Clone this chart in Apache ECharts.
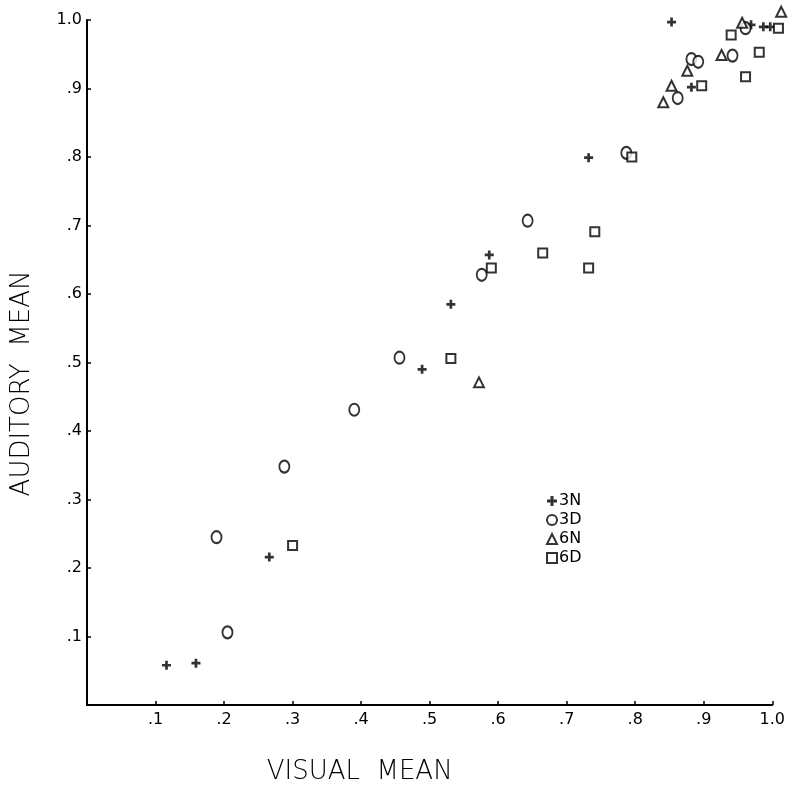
<!DOCTYPE html>
<html>
<head>
<meta charset="utf-8">
<script src="https://cdn.jsdelivr.net/npm/echarts@6/dist/echarts.min.js"></script>
<style>
    html, body { margin: 0; padding: 0; background: #fff; }
    #scatterChart { width: 788px; height: 790px; }
</style>
</head>
<body>
<div id="scatterChart"></div>
<script>
// axis ticks
const tickValues = [0.1, 0.2, 0.3, 0.4, 0.5, 0.6, 0.7, 0.8, 0.9, 1.0];

// [visual mean, auditory mean]
const series3N = [
    [0.853, 0.997], [0.969, 0.993], [0.987, 0.990], [0.997, 0.990],
    [0.882, 0.902], [0.732, 0.799], [0.587, 0.657], [0.531, 0.585],
    [0.489, 0.490], [0.266, 0.216], [0.116, 0.058], [0.159, 0.061]
];
const series3D = [
    [0.189, 0.245], [0.288, 0.348], [0.205, 0.106], [0.390, 0.431],
    [0.456, 0.507], [0.576, 0.628], [0.643, 0.707], [0.787, 0.806],
    [0.862, 0.886], [0.882, 0.943], [0.892, 0.939], [0.961, 0.988],
    [0.942, 0.948]
];
const series6N = [
    [0.572, 0.471], [0.841, 0.880], [0.853, 0.904], [0.876, 0.926],
    [0.956, 0.996], [1.013, 1.012], [0.926, 0.949]
];
const series6D = [
    [0.300, 0.233], [0.531, 0.506], [0.590, 0.638], [0.665, 0.660],
    [0.732, 0.638], [0.741, 0.691], [0.795, 0.800], [0.897, 0.904],
    [0.961, 0.917], [0.981, 0.953], [0.940, 0.978], [1.009, 0.988]
];
const seriesNames = ['3N', '3D', '6N', '6D'];

const plusPath = 'path://M3.5,0H6.5V3.5H10V6.5H6.5V10H3.5V6.5H0V3.5H3.5Z';

function tickLabel(v) {
    if (Math.abs(v - 1) < 1e-6) return '1.0';
    if (v < 0.05) return '';
    return '.' + Math.round(v * 10);
}

const chart = echarts.init(document.getElementById('scatterChart'));
const fontFam = 'DejaVu Sans';

const openStyle = {
    color: '#fff',
    borderColor: '#000',
    borderWidth: 2
};

const option = {
    backgroundColor: '#fff',
    animation: false,
    grid: {
        left: 87,
        right: 14,
        top: 20,
        bottom: 84
    },
    legend: {
        orient: 'vertical',
        left: 541,
        top: 488,
        itemWidth: 10,
        itemHeight: 10,
        itemGap: 3,
        textStyle: { fontFamily: fontFam, fontSize: 16, color: '#000', padding: [0, 0, 0, -3] },
        data: seriesNames
    },
    xAxis: {
        type: 'value',
        min: 0,
        max: 1,
        interval: 0.1,
        name: 'VISUAL  MEAN',
        nameLocation: 'middle',
        nameGap: 54,
        nameTextStyle: {
            fontFamily: fontFam, fontSize: 26, fontWeight: 300, color: '#000',
            padding: [0, 140, 0, 0]
        },
        axisLine: { lineStyle: { color: '#000', width: 2 } },
        axisTick: { inside: true, length: 4, lineStyle: { color: '#000', width: 1.5 } },
        axisLabel: {
            fontFamily: fontFam, fontSize: 16, color: '#000', margin: 7,
            formatter: tickLabel,
            customValues: tickValues
        },
        splitLine: { show: false }
    },
    yAxis: {
        type: 'value',
        min: 0,
        max: 1,
        interval: 0.1,
        name: 'AUDITORY  MEAN',
        nameLocation: 'middle',
        nameGap: 52,
        nameTextStyle: {
            fontFamily: fontFam, fontSize: 26, fontWeight: 300, color: '#000',
            padding: [0, 42, 0, 0]
        },
        axisLine: { lineStyle: { color: '#000', width: 2 } },
        axisTick: { inside: true, length: 4, lineStyle: { color: '#000', width: 1.5 } },
        axisLabel: {
            fontFamily: fontFam, fontSize: 16, color: '#000', margin: 5,
            formatter: tickLabel
        },
        splitLine: { show: false }
    },
    series: [
        {
            name: '3N',
            type: 'scatter',
            clip: false,
            symbol: plusPath,
            symbolSize: 9,
            itemStyle: { color: '#000' },
            data: series3N
        },
        {
            name: '3D',
            type: 'scatter',
            clip: false,
            symbol: 'circle',
            symbolSize: [10, 12],
            itemStyle: openStyle,
            data: series3D
        },
        {
            name: '6N',
            type: 'scatter',
            clip: false,
            symbol: 'triangle',
            symbolSize: 10,
            itemStyle: openStyle,
            data: series6N
        },
        {
            name: '6D',
            type: 'scatter',
            clip: false,
            symbol: 'rect',
            symbolSize: 9,
            itemStyle: openStyle,
            data: series6D
        }
    ]
};
option && chart.setOption(option);
</script>
</body>
</html>
